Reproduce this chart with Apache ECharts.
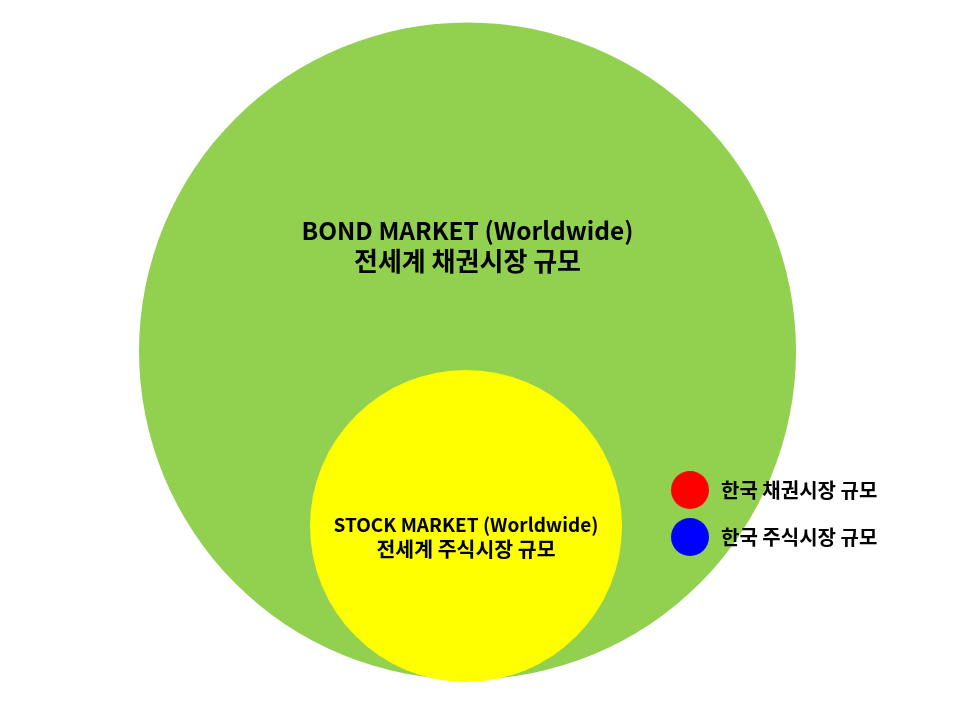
<!DOCTYPE html>
<html>
<head>
<meta charset="utf-8">
<script src="https://cdn.jsdelivr.net/npm/echarts@6/dist/echarts.min.js"></script>
<style>
html,body{margin:0;padding:0;background:#fff;}
#chart{width:966px;height:709px;}
</style>
</head>
<body>
<div id="chart"></div>
<script>
// ---- data ----
const circleTitles = ['BOND MARKET (Worldwide)', 'STOCK MARKET (Worldwide)'];
const circleSubtitles = ['전세계 채권시장 규모', '전세계 주식시장 규모'];
const circleCenterX = [467.5, 466];
const circleCenterY = [351, 526];
const circleRadius = [328.5, 156];
const legendNames = ['한국 채권시장 규모', '한국 주식시장 규모'];

// ---- styles ----
const circleColors = ['#92D050', '#FFFF00'];
const legendColors = ['#FF0000', '#0000FF'];
const labelStyles = [
  { dy: -105, en: 24.5, ko: 26, lh: 31 },
  { dy: 11, en: 19, ko: 20.5, lh: 25 }
];
const FONT = '"Noto Sans CJK KR", "Noto Sans", sans-serif';

const circleData = circleTitles.map((t, i) => [circleCenterX[i], circleCenterY[i], circleRadius[i], i]);

const chart = echarts.init(document.getElementById('chart'), null, { renderer: 'canvas' });

const series = [{
  type: 'custom',
  name: 'circles',
  coordinateSystem: 'cartesian2d',
  data: circleData,
  silent: true,
  renderItem: function (params, api) {
    const i = api.value(3);
    const c = api.coord([api.value(0), api.value(1)]);
    const r = api.size([api.value(2), 0])[0];
    const ls = labelStyles[i];
    return {
      type: 'group',
      children: [{
        type: 'circle',
        shape: { cx: c[0], cy: c[1], r: r },
        style: { fill: circleColors[i] }
      }, {
        type: 'text',
        x: c[0],
        y: c[1] + ls.dy,
        style: {
          text: '{a|' + circleTitles[i] + '}\n{b|' + circleSubtitles[i] + '}',
          align: 'center',
          verticalAlign: 'middle',
          fill: '#000',
          rich: {
            a: { fontFamily: FONT, fontWeight: 'bold', fontSize: ls.en, lineHeight: ls.lh, fill: '#000', align: 'center' },
            b: { fontFamily: FONT, fontWeight: 'bold', fontSize: ls.ko, lineHeight: ls.lh, fill: '#000', align: 'center' }
          }
        }
      }]
    };
  },
  encode: { x: 0, y: 1 },
  z: 1
}];

legendNames.forEach((n, i) => {
  series.push({
    type: 'scatter',
    name: n,
    data: [],
    itemStyle: { color: legendColors[i], opacity: 1 }
  });
});

chart.setOption({
  animation: false,
  grid: { left: 0, right: 0, top: 0, bottom: 0 },
  xAxis: { type: 'value', min: 0, max: 966, show: false },
  yAxis: { type: 'value', min: 0, max: 709, inverse: true, show: false },
  legend: {
    data: legendNames.map((n) => ({ name: n, icon: 'circle', itemStyle: { opacity: 1 } })),
    orient: 'vertical',
    left: 671,
    top: 471,
    itemWidth: 38,
    itemHeight: 38,
    itemGap: 9,
    selectedMode: false,
    padding: 0,
    textStyle: {
      fontFamily: FONT,
      fontWeight: 'bold',
      fontSize: 20,
      color: '#000',
      padding: [0, 0, 0, 7]
    }
  },
  series: series
});
</script>
</body>
</html>
